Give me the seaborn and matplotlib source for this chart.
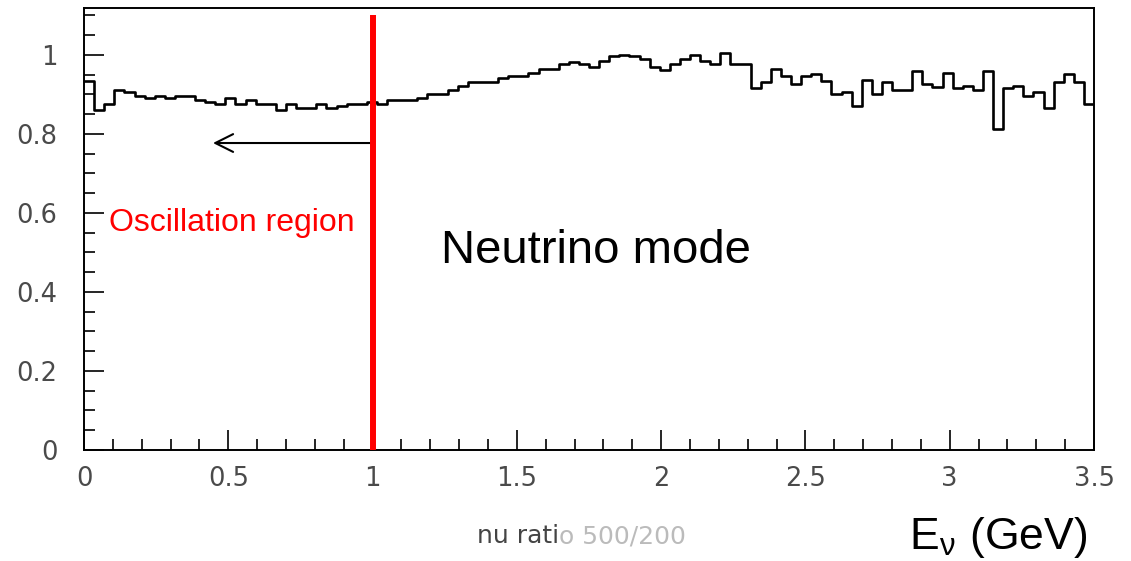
import numpy as np
import pandas as pd
import matplotlib
matplotlib.use("Agg")
import matplotlib.pyplot as plt
import seaborn as sns

# ---------------- data ----------------
n_bins = 100
x_min, x_max = 0.0, 3.5
ratio_values = [
    0.935, 0.861, 0.876, 0.911, 0.906, 0.896, 0.890, 0.896, 0.890, 0.896,
    0.896, 0.886, 0.881, 0.876, 0.890, 0.876, 0.886, 0.876, 0.876, 0.861,
    0.876, 0.866, 0.866, 0.876, 0.866, 0.871, 0.876, 0.876, 0.881, 0.876,
    0.886, 0.886, 0.886, 0.890, 0.900, 0.900, 0.911, 0.921, 0.931, 0.931,
    0.931, 0.941, 0.946, 0.946, 0.953, 0.965, 0.965, 0.976, 0.981, 0.976,
    0.970, 0.985, 0.996, 1.001, 0.996, 0.990, 0.970, 0.961, 0.976, 0.990,
    1.001, 0.985, 0.976, 1.005, 0.977, 0.977, 0.916, 0.931, 0.965, 0.946,
    0.927, 0.946, 0.952, 0.935, 0.901, 0.906, 0.870, 0.936, 0.901, 0.931,
    0.911, 0.911, 0.960, 0.927, 0.920, 0.955, 0.916, 0.921, 0.911, 0.960,
    0.812, 0.916, 0.921, 0.895, 0.906, 0.866, 0.931, 0.951, 0.931, 0.876,
]
x_major_ticks = [0, 0.5, 1, 1.5, 2, 2.5, 3, 3.5]
x_tick_labels = ["0", "0.5", "1", "1.5", "2", "2.5", "3", "3.5"]
y_major_ticks = [0, 0.2, 0.4, 0.6, 0.8, 1.0]
y_tick_labels = ["0", "0.2", "0.4", "0.6", "0.8", "1"]
y_limits = (0, 1.12)

osc_boundary = 1.0        # red vertical line position (GeV)
osc_line_top = 1.1
arrow_tip_x = 0.447
arrow_y = 0.777

bin_edges = np.linspace(x_min, x_max, n_bins + 1)
bin_centers = 0.5 * (bin_edges[:-1] + bin_edges[1:])
df = pd.DataFrame({"E": bin_centers, "ratio": ratio_values})

# ---------------- style ----------------
sns.set_theme(style="ticks")
plt.rcParams["font.family"] = ["DejaVu Sans"]
plt.rcParams["mathtext.fontset"] = "stix"

fig = plt.figure(figsize=(11.31, 5.61), dpi=100)
W, H = 1131, 561
ax = fig.add_axes([84 / W, 1 - 450 / H, (1094 - 84) / W, (450 - 7.5) / H])

sns.histplot(data=df, x="E", weights="ratio", bins=n_bins,
             binrange=(x_min, x_max),
             element="step", fill=False, color="black", linewidth=1.9, ax=ax)

ax.set_xlim(x_min, x_max)
ax.set_ylim(*y_limits)
ax.set_xlabel("")
ax.set_ylabel("")

ax.set_xticks(x_major_ticks)
ax.set_xticklabels(x_tick_labels)
ax.set_xticks(np.arange(0, 3.5001, 0.1), minor=True)
ax.set_yticks(y_major_ticks)
ax.set_yticklabels(y_tick_labels)
ax.set_yticks(np.arange(0, 1.1001, 0.05), minor=True)

for sp in ax.spines.values():
    sp.set_visible(True)
    sp.set_linewidth(1.4)
    sp.set_color("black")

ax.tick_params(which="both", direction="in", top=False, right=False,
               width=1.2, color="black")
ax.tick_params(which="major", length=14.4, labelsize=18.5, labelcolor="#4a4a4a")
ax.tick_params(which="minor", length=7.9)
ax.tick_params(axis="x", which="major", pad=11.5)
ax.tick_params(axis="y", which="major", pad=19)

# red oscillation boundary
ax.vlines(osc_boundary, 0, osc_line_top, color="#ff0000", linewidth=4.3, zorder=5)

# arrow pointing into oscillation region
ax.annotate("", xy=(arrow_tip_x, arrow_y), xytext=(osc_boundary, arrow_y),
            arrowprops=dict(arrowstyle="->", lw=1.5, color="black",
                            mutation_scale=32, shrinkA=0, shrinkB=0))

ax.text(0.087, 0.554, "Oscillation region", color="#ff0000",
        fontsize=23, family=["Liberation Sans", "DejaVu Sans"],
        ha="left", va="baseline")
ax.text(1.237, 0.473, "Neutrino mode", color="black",
        fontsize=34, family=["Liberation Sans", "DejaVu Sans"],
        ha="left", va="baseline")

fig.text(1087 / W, 1 - 549 / H, r"E$_{\mathregular{\nu}}$ (GeV)", color="black",
         fontsize=32, family=["Liberation Sans", "DejaVu Sans"],
         ha="right", va="baseline")

t1 = fig.text(477 / W, 1 - 543 / H, "nu rati", color="#444444",
              fontsize=18, ha="left", va="baseline")
ax.annotate("o 500/200", xy=(1, 0), xycoords=t1, ha="left", va="bottom",
            color="#bbbbbb", fontsize=18, annotation_clip=False)

fig.savefig("out.png", dpi=100, facecolor="white")
